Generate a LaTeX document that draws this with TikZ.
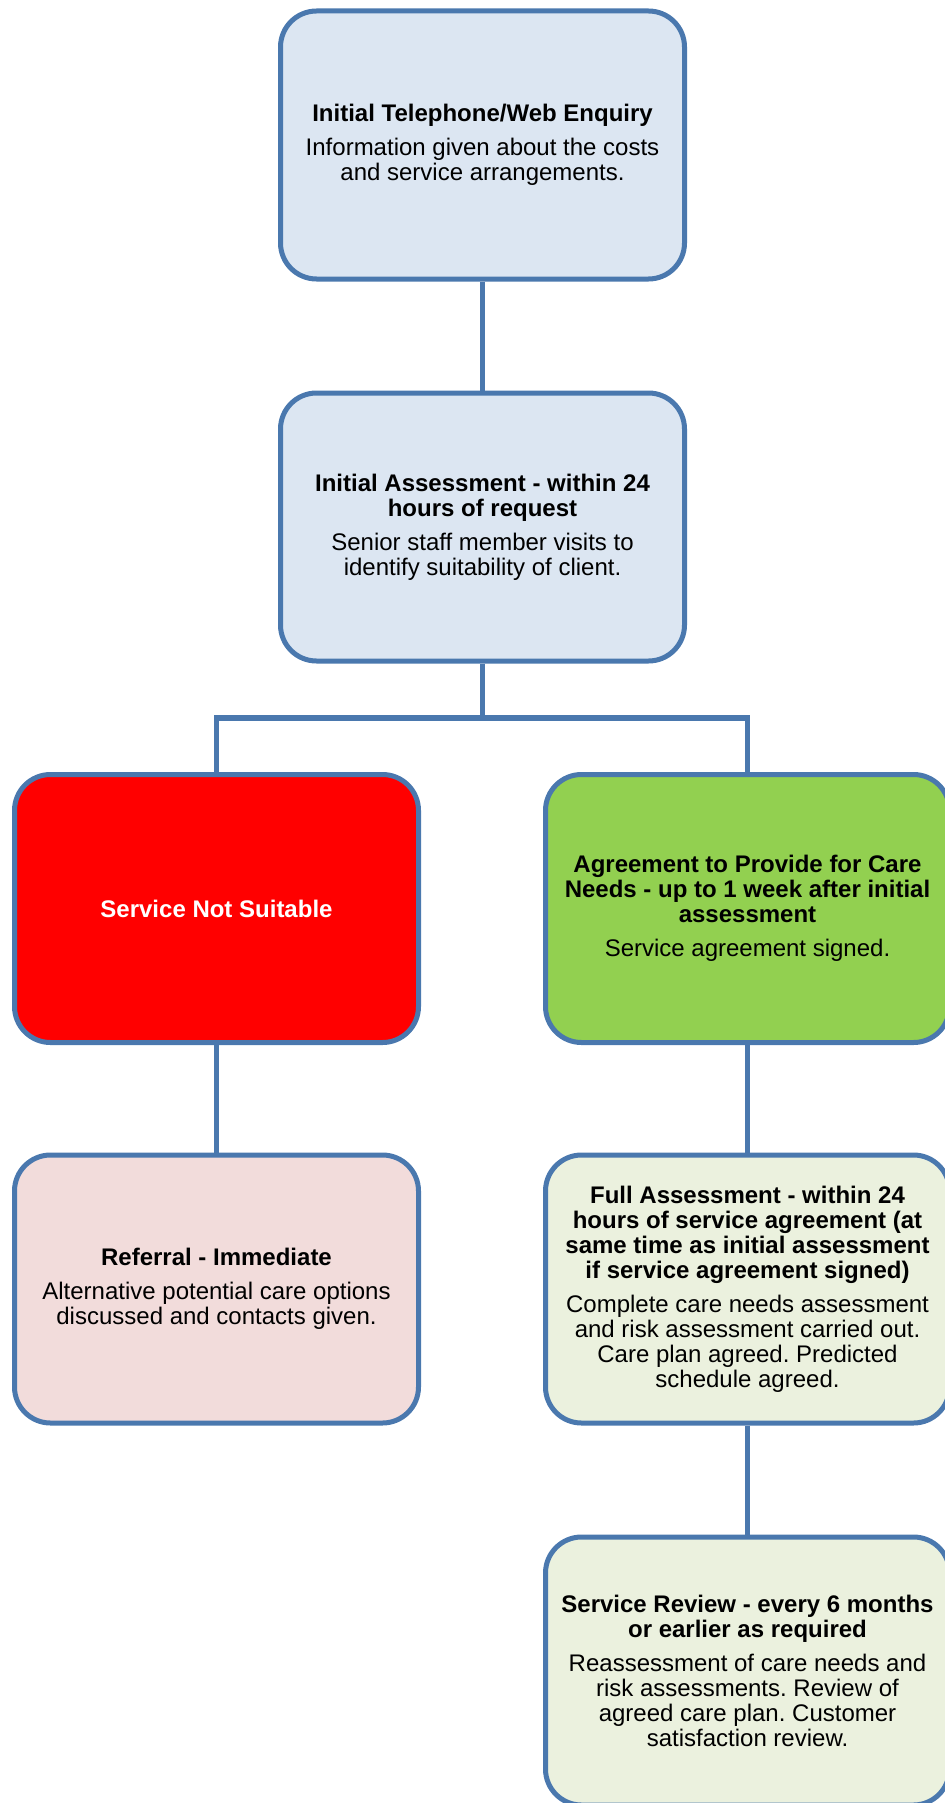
\documentclass[tikz,border=0pt]{standalone}
\usepackage{fontspec}
\setmainfont{Liberation Sans}
\usepackage{tikz}
\frenchspacing
\definecolor{white}{RGB}{255,255,255}
\definecolor{black}{RGB}{0,0,0}
\definecolor{edge_blue}{RGB}{74,120,174}
\definecolor{light_blue}{RGB}{220,230,242}
\definecolor{bright_red}{RGB}{255,0,0}
\definecolor{leaf_green}{RGB}{146,208,80}
\definecolor{pale_red}{RGB}{242,220,219}
\definecolor{pale_green}{RGB}{235,241,222}
\tikzset{
	box/.style={rectangle,rounded corners=18pt,draw=edge_blue,line width=2.5pt,
		minimum width=202pt,minimum height=134pt,inner sep=0pt,align=center,
		font=\fontsize{12}{12.5}\selectfont},
	link/.style={draw=edge_blue,line width=2.8pt}
}

\begin{document}
\begin{tikzpicture}[x=0.5pt,y=-0.5pt]
	\useasboundingbox (0,0) rectangle (944,1803);
	\node[box,fill=light_blue] (1) at (482.5,145) {\textbf{Initial Telephone/Web Enquiry}\\[4.5pt]Information given about the costs\\and service arrangements.};
	\node[box,fill=light_blue] (2) at (482.5,527) {\textbf{Initial Assessment - within 24}\\\textbf{hours of request}\\[4.5pt]Senior staff member visits to\\identify suitability of client.};
	\node[box,fill=bright_red,text=white] (3) at (216.5,908.5) {\textbf{Service Not Suitable}};
	\node[box,fill=leaf_green] (4) at (747.5,908.5) {\textbf{Agreement to Provide for Care}\\\textbf{Needs - up to 1 week after initial}\\\textbf{assessment}\\[4.5pt]Service agreement signed.};
	\node[box,fill=pale_red] (5) at (216.5,1289) {\textbf{Referral - Immediate}\\[4.5pt]Alternative potential care options\\discussed and contacts given.};
	\node[box,fill=pale_green] (6) at (747.5,1289) {\textbf{Full Assessment - within 24}\\\textbf{hours of service agreement (at}\\\textbf{same time as initial assessment}\\\textbf{if service agreement signed)}\\[4.5pt]Complete care needs assessment\\and risk assessment carried out.\\Care plan agreed. Predicted\\schedule agreed.};
	\node[box,fill=pale_green] (7) at (747.5,1671) {\textbf{Service Review - every 6 months}\\\textbf{or earlier as required}\\[4.5pt]Reassessment of care needs and\\risk assessments. Review of\\agreed care plan. Customer\\satisfaction review.};
	
	\coordinate (fork) at (482.5,718);
	\foreach \x/\y in {1/2,3/5,4/6,6/7}
		\draw[link] (\x) -- (\y);
	\draw[link] (2) -- (fork) -| (3);
	\draw[link] (fork) -| (4);
\end{tikzpicture}
\end{document}
